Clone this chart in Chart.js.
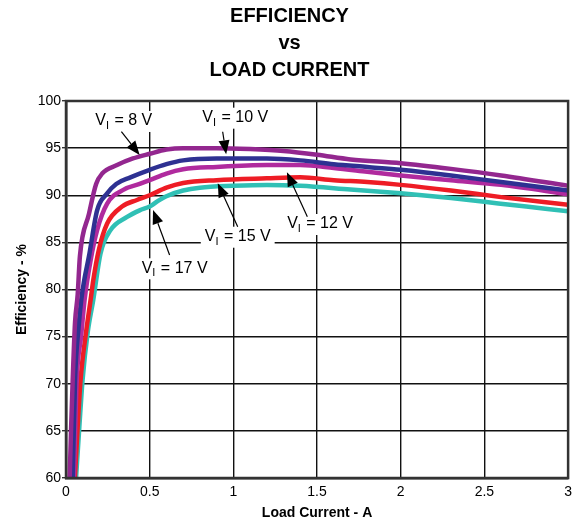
<!DOCTYPE html>
<html>
<head>
<meta charset="utf-8">
<script src="https://cdn.jsdelivr.net/npm/chart.js@4.4.1/dist/chart.umd.min.js"></script>
<style>
  html, body { margin: 0; background: #fff; }
  #wrap { width: 578px; height: 527px; }
</style>
</head>
<body>
<div id="wrap"><canvas id="chart" width="578" height="527"></canvas></div>
<script>
// values
const load8 = [0.022, 0.03, 0.04, 0.054, 0.07, 0.083, 0.137, 0.18, 0.216, 0.305, 0.4, 0.5, 0.6, 0.7, 0.9, 1.1, 1.3, 1.5, 1.7, 2.0, 2.3, 2.6, 3.0];
const eff8 = [60, 65, 70.4, 76.5, 79.5, 83.5, 88, 91.2, 92.3, 93.2, 93.9, 94.4, 94.85, 95, 95, 94.9, 94.7, 94.3, 93.8, 93.4, 92.8, 92.1, 91.0];

const load10 = [0.04, 0.054, 0.075, 0.091, 0.109, 0.137, 0.186, 0.246, 0.3, 0.385, 0.5, 0.6, 0.7, 0.9, 1.2, 1.4, 1.6, 1.8, 2.0, 2.3, 2.6, 3.0];
const eff10 = [60, 70.4, 76, 78.9, 81, 83.5, 88.4, 90.2, 91.2, 91.9, 92.7, 93.3, 93.7, 93.9, 93.9, 93.7, 93.3, 93.0, 92.7, 92.1, 91.4, 90.5];

const load12 = [0.047, 0.064, 0.09, 0.111, 0.147, 0.186, 0.246, 0.345, 0.44, 0.5, 0.6, 0.7, 0.9, 1.2, 1.4, 1.6, 1.8, 2.0, 2.3, 2.6, 3.0];
const eff12 = [60, 70.4, 75, 78.9, 83.1, 86.3, 89.1, 90.6, 91.2, 91.6, 92.3, 92.75, 93.0, 93.2, 93.2, 92.9, 92.5, 92.1, 91.6, 91.1, 90.1];

const load15 = [0.053, 0.07, 0.087, 0.12, 0.147, 0.163, 0.196, 0.246, 0.335, 0.424, 0.5, 0.6, 0.7, 0.9, 1.2, 1.4, 1.6, 1.8, 2.0, 2.3, 2.6, 3.0];
const eff15 = [60, 65.5, 70.4, 75.5, 78.9, 81, 84.2, 87.0, 88.8, 89.5, 90.0, 90.8, 91.3, 91.6, 91.8, 91.9, 91.6, 91.4, 91.1, 90.5, 89.8, 89.0];

const load17 = [0.06, 0.08, 0.099, 0.13, 0.163, 0.206, 0.266, 0.365, 0.44, 0.5, 0.55, 0.6, 0.7, 0.8, 1.0, 1.2, 1.4, 1.7, 2.0, 2.3, 2.5, 2.75, 3.0];
const eff17 = [60, 65.5, 70.4, 75.5, 78.9, 83.8, 86.3, 87.7, 88.4, 88.8, 89.4, 89.9, 90.5, 90.8, 91.0, 91.1, 91.0, 90.6, 90.2, 89.7, 89.3, 88.8, 88.3];

const xTicks = [0, 0.5, 1, 1.5, 2, 2.5, 3];
const yTicks = [60, 65, 70, 75, 80, 85, 90, 95, 100];
const titleLines = ["EFFICIENCY", "vs", "LOAD CURRENT"];

// call-outs: input voltage, label centre, arrow start and arrow tip (data units)
const noteVolts = ["8", "10", "15", "12", "17"];
const noteX = [0.345, 1.011, 1.026, 1.518, 0.649];
const noteY = [97.88, 98.23, 85.6, 86.95, 82.25];
const arrowFromX = [0.331, 0.936, 1.026, 1.442, 0.619];
const arrowFromY = [96.74, 96.74, 86.66, 87.72, 83.66];
const arrowToX = [0.44, 0.957, 0.907, 1.32, 0.52];
const arrowToY = [94.27, 94.34, 91.27, 92.43, 88.43];

const FONT = '"Liberation Sans", Arial, sans-serif';

function series(xs, ys, color) {
  return {
    data: xs.map((x, i) => ({ x, y: ys[i] })),
    borderColor: color,
    borderWidth: 4.5,
    pointRadius: 0,
    cubicInterpolationMode: "monotone",
    borderJoinStyle: "round",
    fill: false
  };
}

const notes = {
  id: "notes",
  afterDatasetsDraw(chart) {
    const { ctx, chartArea: a, scales: { x, y } } = chart;
    ctx.save();
    ctx.strokeStyle = "#333";
    ctx.lineWidth = 2.5;
    ctx.strokeRect(a.left, a.top, a.right - a.left, a.bottom - a.top);

    noteVolts.forEach((v, i) => {
      const cx = x.getPixelForValue(noteX[i]);
      const cy = y.getPixelForValue(noteY[i]);
      const main = `16px ${FONT}`, sub = `11px ${FONT}`;
      ctx.font = main;
      const wV = ctx.measureText("V").width;
      const rest = ` = ${v} V`;
      const wR = ctx.measureText(rest).width;
      ctx.font = sub;
      const wI = ctx.measureText("I").width + 1;
      const w = wV + wI + wR;
      const left = cx - w / 2;

      ctx.fillStyle = "#fff";
      ctx.fillRect(left - 4, cy - 10, w + 8, 21);

      ctx.fillStyle = "#000";
      ctx.textBaseline = "middle";
      ctx.textAlign = "left";
      ctx.font = main;
      ctx.fillText("V", left, cy);
      ctx.font = sub;
      ctx.fillText("I", left + wV, cy + 5);
      ctx.font = main;
      ctx.fillText(rest, left + wV + wI, cy);

      // arrow
      const sx = x.getPixelForValue(arrowFromX[i]), sy = y.getPixelForValue(arrowFromY[i]);
      const tx = x.getPixelForValue(arrowToX[i]), ty = y.getPixelForValue(arrowToY[i]);
      const ang = Math.atan2(ty - sy, tx - sx);
      const head = 14, half = 5.5;
      const bx = tx - head * Math.cos(ang), by = ty - head * Math.sin(ang);
      ctx.strokeStyle = "#000";
      ctx.lineWidth = 1.2;
      ctx.beginPath();
      ctx.moveTo(sx, sy);
      ctx.lineTo(bx, by);
      ctx.stroke();
      ctx.beginPath();
      ctx.moveTo(tx, ty);
      ctx.lineTo(bx + half * Math.sin(ang), by - half * Math.cos(ang));
      ctx.lineTo(bx - half * Math.sin(ang), by + half * Math.cos(ang));
      ctx.closePath();
      ctx.fill();
    });
    ctx.restore();
  }
};

new Chart(document.getElementById("chart"), {
  type: "line",
  data: {
    datasets: [
      series(load8, eff8, "#93278F"),
      series(load10, eff10, "#2E3192"),
      series(load12, eff12, "#B02A9E"),
      series(load15, eff15, "#EE1C25"),
      series(load17, eff17, "#30C0B5")
    ]
  },
  options: {
    responsive: false,
    animation: false,
    layout: { padding: { top: 0, right: 3, bottom: 0, left: 4 } },
    plugins: {
      legend: { display: false },
      tooltip: { enabled: false },
      title: {
        display: true,
        text: titleLines,
        color: "#000",
        font: { family: FONT, size: 20, weight: "bold", lineHeight: 1.35 },
        padding: { top: 3, bottom: 17 }
      }
    },
    scales: {
      x: {
        type: "linear",
        min: 0,
        max: 3,
        afterBuildTicks: s => { s.ticks = xTicks.map(value => ({ value })); },
        afterFit: s => { s.height = 49; },
        ticks: { color: "#000", font: { family: FONT, size: 14 }, padding: 6, callback: v => String(v) },
        grid: { color: "#111", lineWidth: 1.4, drawTicks: false },
        border: { color: "#333", width: 2.5 },
        title: {
          display: true,
          text: "Load Current - A",
          color: "#000",
          font: { family: FONT, size: 14, weight: "bold" },
          padding: { top: 0, bottom: 5 }
        }
      },
      y: {
        min: 60,
        max: 100,
        afterBuildTicks: s => { s.ticks = yTicks.map(value => ({ value })); },
        afterFit: s => { s.width = 62; },
        ticks: { color: "#000", font: { family: FONT, size: 14 }, padding: 1, callback: v => String(v) },
        grid: { color: "#111", lineWidth: 1.4, tickLength: 4, tickColor: "#333" },
        border: { color: "#333", width: 2.5 },
        title: {
          display: true,
          text: "Efficiency - %",
          color: "#000",
          font: { family: FONT, size: 14, weight: "bold" },
          padding: { top: 10, bottom: 0 }
        }
      }
    }
  },
  plugins: [notes]
});
</script>
</body>
</html>
